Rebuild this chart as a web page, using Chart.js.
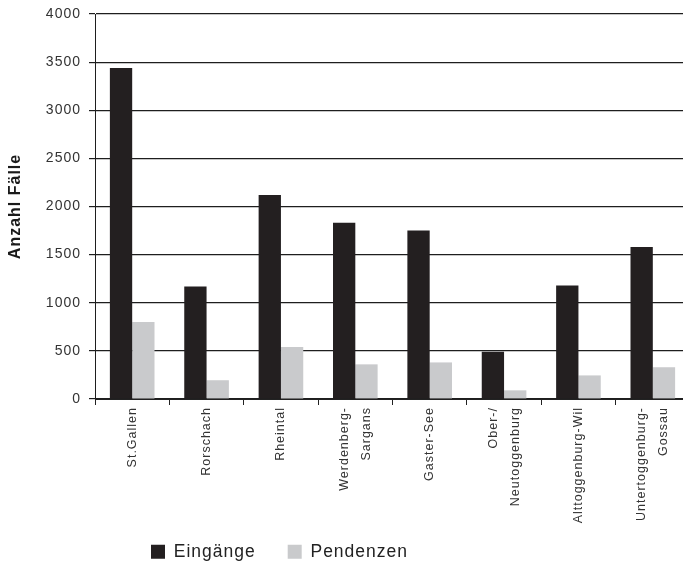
<!DOCTYPE html>
<html lang="de">
<head>
    <meta charset="UTF-8">
    <title>Anzahl Fälle</title>
    <script src="https://cdn.jsdelivr.net/npm/chart.js"></script>
    <style>
        body {
            margin: 0;
            background-color: #fff;
            overflow: hidden;
        }
        canvas {
            display: block;
        }
    </style>
</head>
<body>
    <!-- a bit wider than the window: the plot runs past the right edge like the original -->
    <canvas id="faelleChart" width="690" height="567"></canvas>

    <script>
        // Data
        const regions = ['St.Gallen', 'Rorschach', 'Rheintal', ['Werdenberg-', 'Sargans'], 'Gaster-See',
            ['Ober-/', 'Neutoggenburg'], 'Alttoggenburg-Wil', ['Untertoggenburg-', 'Gossau']];
        const eingaenge = [3440, 1170, 2120, 1830, 1750, 490, 1180, 1580];
        const pendenzen = [800, 195, 540, 360, 380, 90, 245, 330];
        const yTicks = [0, 500, 1000, 1500, 2000, 2500, 3000, 3500, 4000];

        const font = 'Liberation Sans, Arial, sans-serif';

        // wider text like the original typeface
        const spacing = {
            id: 'spacing',
            beforeLayout(chart) { chart.ctx.letterSpacing = '1px'; },
            beforeDraw(chart) { chart.ctx.letterSpacing = '1px'; }
        };

        // move the legend left, first box at x=151
        const legendShift = {
            id: 'legendShift',
            afterLayout(chart) {
                const lg = chart.legend;
                const pad = lg.options.labels.padding;
                const start = (lg.left + pad + lg.right - lg.lineWidths[0]) / 2;
                const d = 151 - start;
                lg.left += d;
                lg.right += d;
            }
        };

        // center two-line x labels on their category, and don't clip them
        const centerLines = {
            id: 'centerLines',
            beforeDraw(chart) {
                const x = chart.scales.x;
                x._computeLabelArea = () => undefined;
                x.getLabelItems().forEach(item => {
                    if (Array.isArray(item.label) && item.label.length > 1 && !item._moved) {
                        item.options.translation[0] -= (item.label.length - 1) * 22 / 2;
                        item._moved = true;
                    }
                });
            }
        };

        new Chart(document.getElementById('faelleChart'), {
            type: 'bar',
            data: {
                labels: regions,
                datasets: [{
                    label: 'Eingänge',
                    data: eingaenge,
                    backgroundColor: '#231f20',
                    borderWidth: 0,
                    categoryPercentage: 0.6,
                    barPercentage: 1.0
                }, {
                    label: 'Pendenzen',
                    data: pendenzen,
                    backgroundColor: '#c9cacc',
                    borderWidth: 0,
                    categoryPercentage: 0.6,
                    barPercentage: 1.0
                }]
            },
            options: {
                responsive: false,
                animation: false,
                layout: {
                    padding: { top: 14, right: 0, bottom: -3.5, left: 0 }
                },
                plugins: {
                    legend: {
                        position: 'bottom',
                        labels: {
                            boxWidth: 14,
                            boxHeight: 14,
                            padding: 32,
                            color: '#222',
                            font: { family: font, size: 17.5 }
                        }
                    },
                    tooltip: { enabled: false }
                },
                scales: {
                    x: {
                        grid: {
                            offset: true,
                            drawOnChartArea: false,
                            tickLength: 6,
                            color: '#222'
                        },
                        border: { color: '#222' },
                        ticks: {
                            minRotation: 90,
                            maxRotation: 90,
                            padding: 2,
                            color: '#333',
                            font: { family: font, size: 12.5, lineHeight: 1.76 }
                        },
                        afterFit: s => { s.height = 112; s.paddingLeft = 0; s.paddingRight = 0; }
                    },
                    y: {
                        min: 0,
                        max: 4000,
                        afterBuildTicks: s => { s.ticks = yTicks.map(v => ({ value: v })); },
                        grid: {
                            color: '#1e1e1e',
                            lineWidth: 1.2,
                            tickLength: 6
                        },
                        border: { color: '#1e1e1e' },
                        ticks: {
                            padding: 8,
                            color: '#333',
                            font: { family: font, size: 14 },
                            callback: v => String(v)
                        },
                        title: {
                            display: true,
                            text: 'Anzahl Fälle',
                            color: '#1a1a1a',
                            padding: { top: 6, bottom: 0 },
                            font: { family: font, size: 16, weight: 'bold' }
                        },
                        afterFit: s => { s.width = 95; s.paddingTop = 0; s.paddingBottom = 0; }
                    }
                }
            },
            plugins: [spacing, legendShift, centerLines]
        });
    </script>
</body>
</html>
